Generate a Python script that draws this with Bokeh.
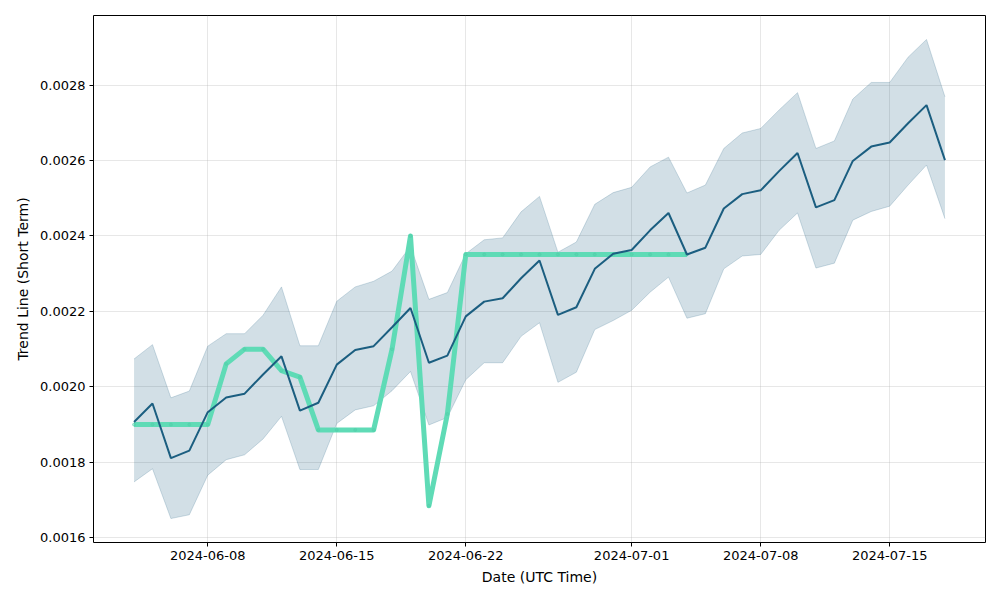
from datetime import datetime, timedelta
from bokeh.plotting import figure
from bokeh.models import ColumnDataSource, FixedTicker, DatetimeTickFormatter, PrintfTickFormatter, Range1d
from bokeh.embed import file_html
from bokeh.resources import INLINE

start_date = "2024-06-04"
n_days = 45

trend = [0.001907, 0.001956, 0.001811, 0.001831, 0.001933, 0.001972, 0.001982, 0.002033, 0.002081,
         0.001937, 0.001958, 0.002059, 0.002098, 0.002108, 0.002158, 0.002209, 0.002064, 0.002083,
         0.002187, 0.002226, 0.002235, 0.002288, 0.002335, 0.002191, 0.002211, 0.002313, 0.002353,
         0.002363, 0.002415, 0.002461, 0.002351, 0.002369, 0.002473, 0.002511, 0.002521, 0.002572,
         0.002620, 0.002476, 0.002495, 0.002599, 0.002637, 0.002648, 0.002699, 0.002747, 0.002601]

upper = [0.002074, 0.002112, 0.001971, 0.001989, 0.002108, 0.002141, 0.002141, 0.002190, 0.002265,
         0.002109, 0.002109, 0.002227, 0.002265, 0.002280, 0.002307, 0.002373, 0.002232, 0.002250,
         0.002353, 0.002390, 0.002395, 0.002464, 0.002505, 0.002357, 0.002384, 0.002484, 0.002515,
         0.002529, 0.002583, 0.002609, 0.002514, 0.002535, 0.002632, 0.002673, 0.002685, 0.002734,
         0.002780, 0.002632, 0.002652, 0.002763, 0.002807, 0.002807, 0.002874, 0.002921, 0.002769]

lower = [0.001748, 0.001783, 0.001651, 0.001661, 0.001766, 0.001807, 0.001820, 0.001862, 0.001922,
         0.001781, 0.001781, 0.001903, 0.001939, 0.001950, 0.001990, 0.002041, 0.001899, 0.001919,
         0.002019, 0.002064, 0.002064, 0.002134, 0.002170, 0.002012, 0.002039, 0.002152, 0.002176,
         0.002203, 0.002251, 0.002291, 0.002182, 0.002194, 0.002313, 0.002347, 0.002351, 0.002415,
         0.002461, 0.002315, 0.002328, 0.002442, 0.002465, 0.002479, 0.002535, 0.002588, 0.002446]

signal = [0.0019, 0.0019, 0.0019, 0.0019, 0.0019, 0.002061, 0.0021, 0.0021, 0.002043, 0.002026,
          0.001886, 0.001886, 0.001886, 0.001886, 0.0021, 0.0024, 0.001685, 0.001928,
          0.002351, 0.002351, 0.002351, 0.002351, 0.002351, 0.002351, 0.002351, 0.002351,
          0.002351, 0.002351, 0.002351, 0.002351, 0.002351]

x_tick_labels = ["2024-06-08", "2024-06-15", "2024-06-22", "2024-07-01", "2024-07-08", "2024-07-15"]
y_ticks = [0.0016, 0.0018, 0.0020, 0.0022, 0.0024, 0.0026, 0.0028]

d0 = datetime.strptime(start_date, "%Y-%m-%d")
dates = [d0 + timedelta(days=i) for i in range(n_days)]
sig_dates = dates[:len(signal)]

def ms(d):
    return (d - datetime(1970, 1, 1)).total_seconds() * 1000.0

span = dates[-1] - dates[0]
xpad = span * 0.05
ymin = min(lower); ymax = max(upper)
ypad = (ymax - ymin) * 0.05

p = figure(width=1000, height=600, x_axis_type="datetime", output_backend="svg",
           toolbar_location=None,
           x_range=Range1d(dates[0] - xpad, dates[-1] + xpad),
           y_range=Range1d(ymin - ypad, ymax + ypad),
           min_border_left=93, min_border_right=15, min_border_top=15, min_border_bottom=58)

src = ColumnDataSource(dict(x=dates, trend=trend, upper=upper, lower=lower))
p.varea(x="x", y1="lower", y2="upper", source=src, fill_color="#1f5f80", fill_alpha=0.2)
p.line(x="x", y="upper", source=src, line_color="#1f5f80", line_alpha=0.2, line_width=1)
p.line(x="x", y="lower", source=src, line_color="#1f5f80", line_alpha=0.2, line_width=1)

ssrc = ColumnDataSource(dict(x=sig_dates, y=signal))
p.line(x="x", y="y", source=ssrc, line_color="#5fdbb6", line_width=5, line_join="round")
p.scatter(x="x", y="y", source=ssrc, size=3, color="#52d0aa", alpha=0.5)

p.line(x="x", y="trend", source=src, line_color="#1b5e80", line_width=2)

tick_ms = [ms(datetime.strptime(t, "%Y-%m-%d")) for t in x_tick_labels]
p.xaxis.ticker = FixedTicker(ticks=tick_ms)
p.xaxis.formatter = DatetimeTickFormatter(days="%Y-%m-%d", months="%Y-%m-%d", hours="%Y-%m-%d")
p.yaxis.ticker = FixedTicker(ticks=y_ticks)
p.yaxis.formatter = PrintfTickFormatter(format="%.4f")

p.xaxis.axis_label = "Date (UTC Time)"
p.yaxis.axis_label = "Trend Line (Short Term)"

for ax in (p.xaxis, p.yaxis):
    ax.axis_label_text_font = "DejaVu Sans"
    ax.axis_label_text_font_size = "14px"
    ax.axis_label_text_font_style = "normal"
    ax.axis_label_text_color = "black"
    ax.major_label_text_font = "DejaVu Sans"
    ax.major_label_text_font_size = "13px"
    ax.major_label_text_color = "black"
    ax.minor_tick_line_color = None
    ax.major_tick_out = 4
    ax.major_tick_in = 0
    ax.major_tick_line_color = "black"
    ax.axis_line_color = None
    ax.axis_label_standoff = 6
    ax.major_label_standoff = 4

p.xgrid.grid_line_color = "#b0b0b0"
p.xgrid.grid_line_alpha = 0.3
p.ygrid.grid_line_color = "#b0b0b0"
p.ygrid.grid_line_alpha = 0.3
p.outline_line_color = "black"
p.outline_line_width = 1
p.outline_line_alpha = 1.0
p.background_fill_color = "white"
p.border_fill_color = "white"

open("out.html", "w").write(file_html(p, INLINE))
